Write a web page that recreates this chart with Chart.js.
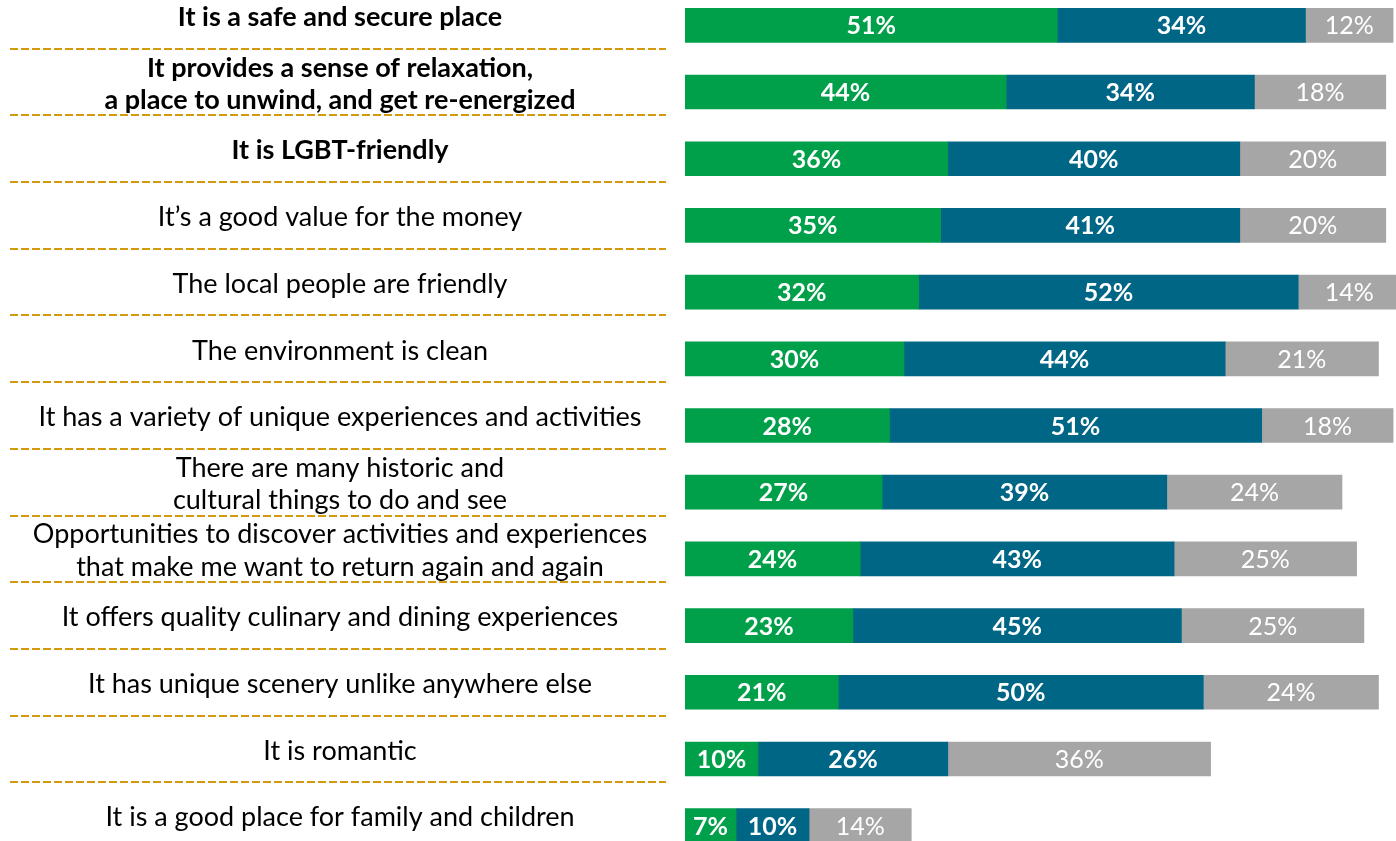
<!DOCTYPE html>
<html>
<head>
<meta charset="utf-8">
<script src="https://cdn.jsdelivr.net/npm/chart.js@4/dist/chart.umd.min.js"></script>
<style>
  html, body { margin: 0; padding: 0; overflow: hidden; background: #fff; width: 1396px; height: 841px; }
  #wrap { position: absolute; left: 0; top: -8px; width: 1415px; height: 867px; }
</style>
</head>
<body>
<div id="wrap"><canvas id="c"></canvas></div>
<script>
const categories = [
  "It is a safe and secure place",
  ["It provides a sense of relaxation,", "a place to unwind, and get re-energized"],
  "It is LGBT-friendly",
  "It\u2019s a good value for the money",
  "The local people are friendly",
  "The environment is clean",
  "It has a variety of unique experiences and activities",
  ["There are many historic and", "cultural things to do and see"],
  ["Opportunities to discover activities and experiences", "that make me want to return again and again"],
  "It offers quality culinary and dining experiences",
  "It has unique scenery unlike anywhere else",
  "It is romantic",
  "It is a good place for family and children"
];
const seriesTop = [51, 44, 36, 35, 32, 30, 28, 27, 24, 23, 21, 10, 7];
const seriesMid = [34, 34, 40, 41, 52, 44, 51, 39, 43, 45, 50, 26, 10];
const seriesLow = [12, 18, 20, 20, 14, 21, 18, 24, 25, 25, 24, 36, 14];
const boldCount = 3;

const FONT = "Lato, 'Open Sans', sans-serif";
const LABEL_SIZE = 27;
const GREEN = '#00A04A', BLUE = '#006685', GREY = '#A6A6A6', GOLD = '#D4990C';

// measure widest label to center labels at x≈340
const mc = document.createElement('canvas').getContext('2d');
let widest = 0;
categories.forEach((c, i) => {
  mc.font = (i < boldCount ? 'bold ' : '') + LABEL_SIZE + 'px ' + FONT;
  (Array.isArray(c) ? c : [c]).forEach(l => { widest = Math.max(widest, mc.measureText(l).width); });
});
const AXIS_W = 685, LABEL_CX = 340;
const tickPad = AXIS_W - LABEL_CX - widest / 2;

const valueLabels = {
  id: 'valueLabels',
  afterDatasetsDraw(chart) {
    const ctx = chart.ctx;
    const area = chart.chartArea;
    ctx.save();
    ctx.beginPath();
    ctx.rect(area.left, 0, 1396 - area.left, chart.height);
    ctx.clip();
    chart.data.datasets.forEach((ds, di) => {
      const meta = chart.getDatasetMeta(di);
      meta.data.forEach((bar, i) => {
        const v = ds.data[i];
        const cx = (bar.x + bar.base) / 2;
        ctx.fillStyle = '#fff';
        ctx.font = (di < 2 ? 'bold ' : '') + '25px ' + FONT;
        ctx.textAlign = 'center';
        ctx.textBaseline = 'middle';
        ctx.fillText(v + '%', cx, bar.y + 1);
      });
    });
    ctx.restore();
  }
};

const separators = {
  id: 'separators',
  afterDraw(chart) {
    const y = chart.scales.y;
    const ctx = chart.ctx;
    ctx.save();
    ctx.strokeStyle = GOLD;
    ctx.lineWidth = 2;
    ctx.setLineDash([8, 3]);
    for (let i = 0; i < categories.length - 1; i++) {
      const py = Math.round((y.getPixelForValue(i) + y.getPixelForValue(i + 1)) / 2 - 10);
      ctx.beginPath();
      ctx.moveTo(10, py);
      ctx.lineTo(666, py);
      ctx.stroke();
    }
    ctx.restore();
  }
};

new Chart(document.getElementById('c'), {
  type: 'bar',
  data: {
    labels: categories,
    datasets: [
      { data: seriesTop, backgroundColor: GREEN },
      { data: seriesMid, backgroundColor: BLUE },
      { data: seriesLow, backgroundColor: GREY }
    ]
  },
  options: {
    indexAxis: 'y',
    responsive: true,
    maintainAspectRatio: false,
    animation: false,
    layout: { padding: 0 },
    datasets: { bar: { barThickness: 34, borderWidth: 0 } },
    plugins: { legend: { display: false }, tooltip: { enabled: false } },
    scales: {
      x: { stacked: true, display: false, min: 0, max: 100 },
      y: {
        stacked: true,
        position: 'left',
        grid: { display: false, drawTicks: false },
        border: { display: false },
        afterFit(s) { s.width = AXIS_W; s.paddingTop = 0; s.paddingBottom = 0; },
        ticks: {
          autoSkip: false,
          crossAlign: 'center',
          padding: tickPad,
          labelOffset: -8,
          color: '#000',
          font: (ctx) => ({ family: FONT, size: LABEL_SIZE, lineHeight: 1.2, weight: ctx.index < boldCount ? 'bold' : 'normal' })
        }
      }
    }
  },
  plugins: [valueLabels, separators]
});
</script>
</body>
</html>
